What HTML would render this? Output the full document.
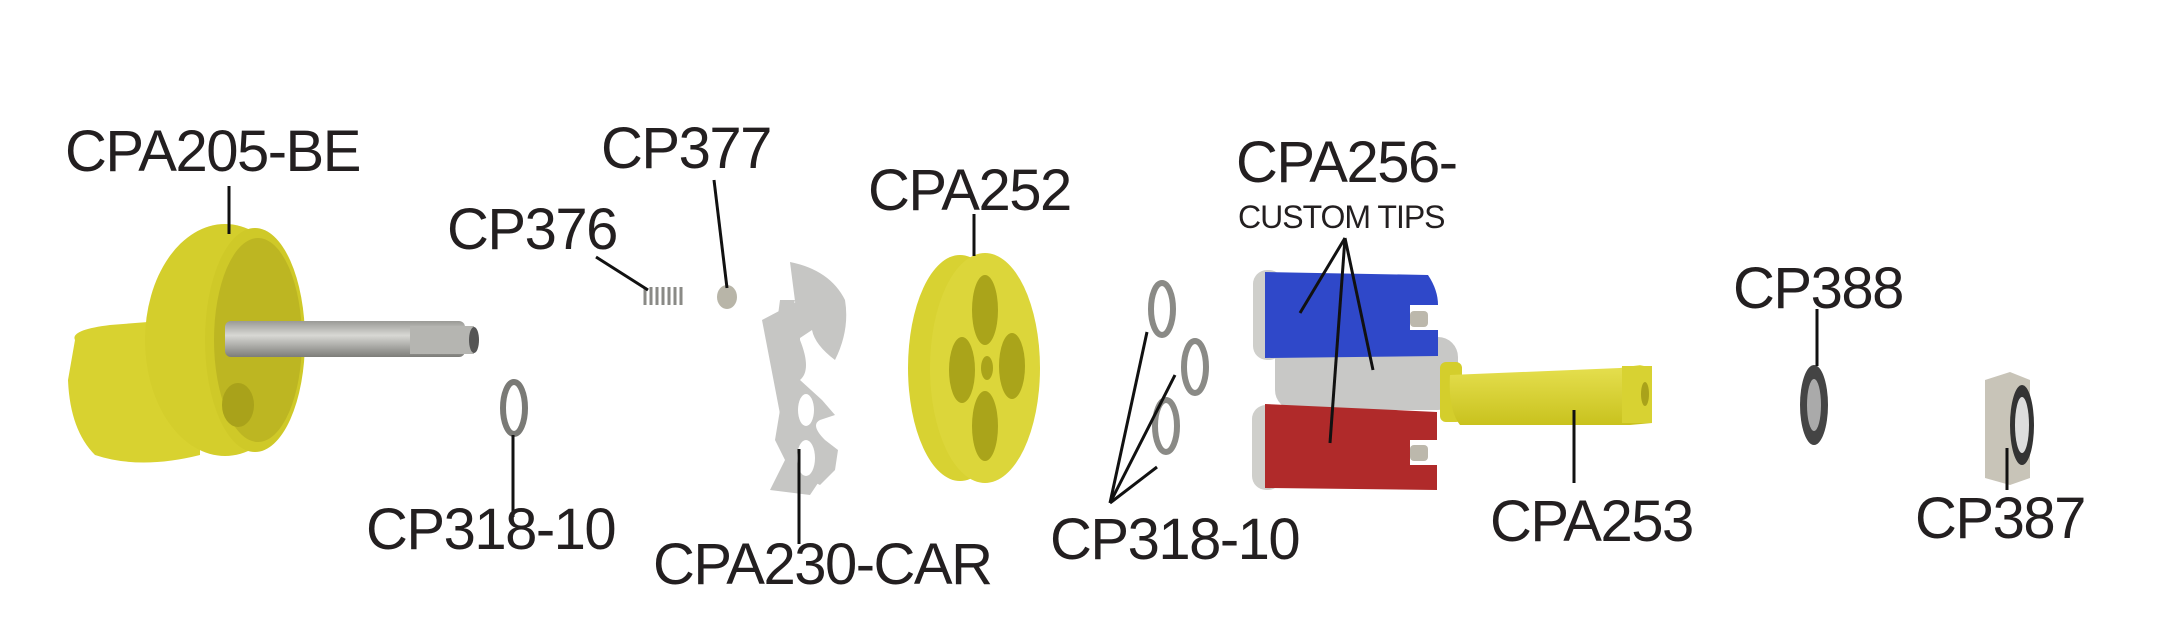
<!DOCTYPE html>
<html><head><meta charset="utf-8"><style>
html,body{margin:0;padding:0;background:#fff;}
svg{display:block;}
text{font-family:"Liberation Sans",Arial,sans-serif;fill:#231f20;}
</style></head><body>
<svg width="2181" height="638" viewBox="0 0 2181 638" xmlns="http://www.w3.org/2000/svg">
<defs>
<linearGradient id="yel" x1="0" y1="0" x2="0" y2="1"><stop offset="0" stop-color="#e6e050"/><stop offset="1" stop-color="#c9c21e"/></linearGradient>
<linearGradient id="steel" x1="0" y1="0" x2="0" y2="1"><stop offset="0" stop-color="#9a9a96"/><stop offset="0.4" stop-color="#d8d8d4"/><stop offset="1" stop-color="#7d7d79"/></linearGradient>
</defs>
<!-- knob CPA205-BE -->
<path d="M75 340 Q70 330 110 325 L200 318 L200 455 Q140 470 95 455 Q70 430 68 380 Z" fill="#d8d230"/>
<ellipse cx="225" cy="340" rx="80" ry="116" fill="#d4ce2c"/>
<ellipse cx="255" cy="340" rx="50" ry="112" fill="#cfc928"/>
<ellipse cx="258" cy="340" rx="44" ry="102" fill="#bdb622"/>
<ellipse cx="238" cy="405" rx="16" ry="22" fill="#a9a21a"/>
<rect x="225" y="321" width="240" height="36" rx="6" fill="url(#steel)"/>
<rect x="410" y="326" width="64" height="28" fill="#b5b5b1"/>
<ellipse cx="474" cy="340" rx="5" ry="13" fill="#555"/>
<!-- CP318-10 left ring -->
<ellipse cx="514" cy="408" rx="11" ry="26" fill="none" stroke="#7a7a76" stroke-width="6"/>
<!-- spring -->
<g stroke="#8a8a86" stroke-width="3" fill="none">
<path d="M645 287 v18 M651 287 v18 M657 287 v18 M663 287 v18 M669 287 v18 M675 287 v18 M681 287 v18"/>
</g>
<!-- ball -->
<ellipse cx="727" cy="297" rx="10" ry="12" fill="#b8b5a8"/>
<!-- plate CPA230-CAR -->
<path d="M790 262 Q830 270 845 300 Q850 330 835 360 Q815 345 812 330 L800 338 L790 320 L795 300 L780 300 L778 315 L770 335 L782 340 L785 380 L775 440 L790 470 L820 485 L835 470 L838 450 L825 440 Q810 425 820 420 L835 415 L822 400 L800 380 Q812 370 800 340 Z" fill="#c6c6c4"/>
<path d="M762 320 L800 300 L800 430 L770 490 L810 495 L820 480 Q790 470 785 440 Z" fill="#c6c6c4"/>
<ellipse cx="806" cy="410" rx="8" ry="16" fill="#fff"/>
<ellipse cx="806" cy="458" rx="9" ry="18" fill="#fff"/>
<!-- disk CPA252 -->
<ellipse cx="960" cy="368" rx="52" ry="113" fill="#d8d232"/>
<ellipse cx="985" cy="368" rx="55" ry="115" fill="#dcd63a"/>
<ellipse cx="985" cy="310" rx="13" ry="35" fill="#aaa41a"/>
<ellipse cx="985" cy="426" rx="13" ry="35" fill="#aaa41a"/>
<ellipse cx="962" cy="370" rx="13" ry="33" fill="#aaa41a"/>
<ellipse cx="1012" cy="366" rx="13" ry="33" fill="#aaa41a"/>
<ellipse cx="987" cy="368" rx="6" ry="12" fill="#aaa41a"/>
<!-- right rings -->
<g fill="none" stroke="#8a8a86" stroke-width="6">
<ellipse cx="1162" cy="309" rx="11" ry="26"/>
<ellipse cx="1195" cy="367" rx="11" ry="26"/>
<ellipse cx="1166" cy="426" rx="11" ry="26"/>
</g>
<!-- grey cylinder -->
<rect x="1275" y="337" width="183" height="73" rx="20" fill="#c8c8c6"/>
<!-- blue cylinder -->
<rect x="1253" y="270" width="30" height="90" rx="14" fill="#cfcfcb"/>
<path d="M1265 272 L1428 275 Q1438 290 1438 305 L1410 305 L1410 330 L1438 330 L1438 356 L1265 358 Z" fill="#2f48c9"/>
<rect x="1410" y="311" width="18" height="16" rx="4" fill="#bcb8ac"/>
<!-- red cylinder -->
<rect x="1252" y="405" width="30" height="85" rx="14" fill="#cfcfcb"/>
<path d="M1265 404 L1437 412 L1437 440 L1410 440 L1410 465 L1437 465 L1437 490 L1265 488 Z" fill="#b02a2a"/>
<rect x="1410" y="445" width="18" height="16" rx="4" fill="#bcb8ac"/>
<!-- yellow stem CPA253 -->
<rect x="1440" y="362" width="22" height="60" rx="6" fill="#d4ce2c"/>
<path d="M1450 375 L1620 368 L1640 365 L1652 368 L1652 423 L1630 425 L1460 425 Q1448 410 1450 375Z" fill="url(#yel)"/>
<rect x="1622" y="366" width="30" height="57" fill="#d8d232"/>
<ellipse cx="1645" cy="394" rx="4" ry="12" fill="#a9a21a"/>
<!-- washer CP388 -->
<ellipse cx="1814" cy="405" rx="14" ry="40" fill="#444"/>
<ellipse cx="1814" cy="405" rx="7" ry="26" fill="#aaa"/>
<!-- nut CP387 -->
<path d="M1985 380 L2010 372 L2030 380 L2030 478 L2010 485 L1985 478 Z" fill="#c8c4b8"/>
<ellipse cx="2022" cy="425" rx="12" ry="40" fill="#333"/>
<ellipse cx="2022" cy="425" rx="7" ry="28" fill="#ddd"/>
<!-- leader lines -->
<g stroke="#111" stroke-width="3" fill="none">
<line x1="229" y1="186" x2="229" y2="234"/>
<line x1="596" y1="257" x2="648" y2="290"/>
<line x1="714" y1="180" x2="727" y2="288"/>
<line x1="513" y1="435" x2="513" y2="517"/>
<line x1="799" y1="449" x2="799" y2="544"/>
<line x1="974" y1="214" x2="974" y2="256"/>
<line x1="1110" y1="503" x2="1147" y2="332"/>
<line x1="1110" y1="503" x2="1175" y2="375"/>
<line x1="1110" y1="503" x2="1157" y2="467"/>
<line x1="1345" y1="238" x2="1300" y2="313"/>
<line x1="1345" y1="238" x2="1330" y2="443"/>
<line x1="1345" y1="238" x2="1373" y2="370"/>
<line x1="1574" y1="410" x2="1574" y2="483"/>
<line x1="1817" y1="309" x2="1817" y2="366"/>
<line x1="2007" y1="448" x2="2007" y2="490"/>
</g>
<!-- labels -->
<g font-size="58" letter-spacing="-1.5">
<text x="65" y="171">CPA205-BE</text>
<text x="447" y="249">CP376</text>
<text x="601" y="168">CP377</text>
<text x="868" y="210">CPA252</text>
<text x="1236" y="182">CPA256-</text>
<text x="1733" y="308">CP388</text>
<text x="366" y="549">CP318-10</text>
<text x="653" y="584">CPA230-CAR</text>
<text x="1050" y="559">CP318-10</text>
<text x="1490" y="541">CPA253</text>
<text x="1915" y="538">CP387</text>
</g>
<text x="1238" y="228" font-size="32" letter-spacing="-1">CUSTOM TIPS</text>
</svg>
</body></html>
